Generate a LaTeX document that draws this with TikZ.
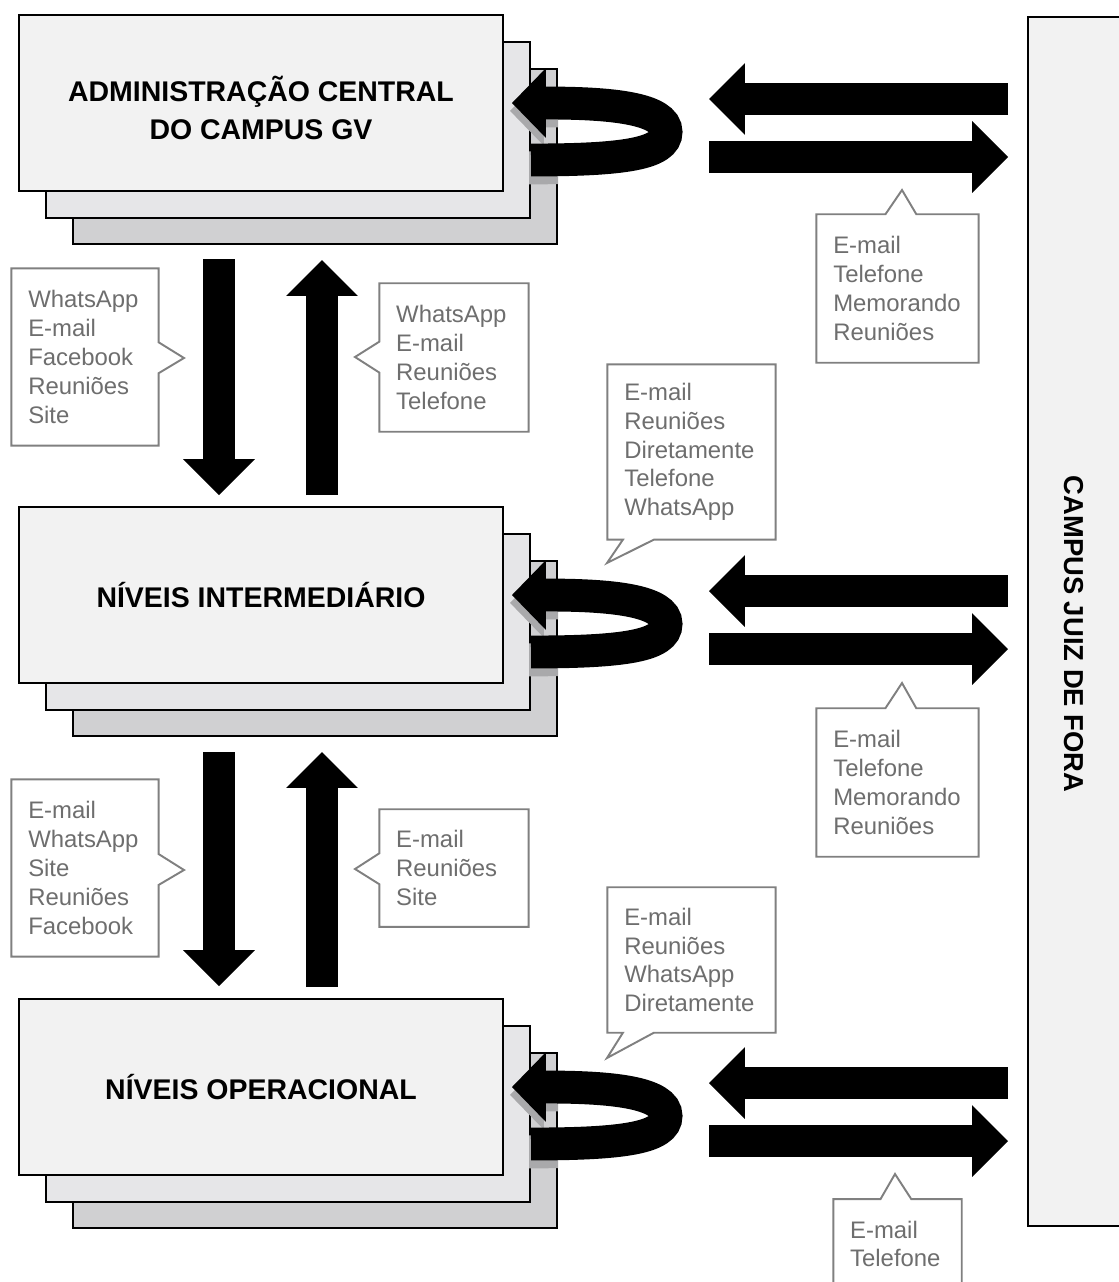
\documentclass[tikz,border=0pt]{standalone}
\usepackage{fontspec}
\setmainfont{Liberation Sans}
\usetikzlibrary{arrows.meta,shapes.callouts,shadows}
\hyphenpenalty=10000

\definecolor{layerfront}{HTML}{F2F2F2}
\definecolor{layermid}{HTML}{E6E6E8}
\definecolor{layerback}{HTML}{D0D0D2}
\definecolor{notegray}{HTML}{808080}
\definecolor{notetext}{HTML}{6E6E6E}
\definecolor{shadowgray}{HTML}{A9A9AB}

\begin{document}
\begin{tikzpicture}[x=0.02cm,y=-0.02cm,
        levelbox/.style = {draw,line width=1.1pt,fill=layerfront,
            minimum width=275.5pt,minimum height=99.8pt,align=center,
            font=\fontsize{16.2pt}{21.5pt}\selectfont\bfseries,
            copy shadow={shadow xshift=30.6pt,shadow yshift=-30.6pt,fill=layerback,draw=black},
            copy shadow={shadow xshift=15.3pt,shadow yshift=-15.3pt,fill=layermid,draw=black}},
        band/.style = {line width=18.1pt,
            -{Triangle[length=20.4pt 0,width=40.8pt 0,line width=0pt 0]}},
        uturn/.style = {line width=18.7pt,
            -{Triangle[length=19.3pt 0,width=39.7pt 0,line width=0pt 0]}},
        note/.style = {rectangle callout,draw=notegray,line width=1.1pt,fill=white,
            text=notetext,align=left,inner xsep=9.6pt,inner ysep=2pt,
            callout pointer width=17.6pt,font=\fontsize{13.6pt}{16.4pt}\selectfont},
        note size/.style 2 args = {text width=#1,minimum height=#2}]
    \useasboundingbox (0,0) rectangle (1119,1282);

    % campus juiz de fora
    \node[draw,line width=1.1pt,fill=layerfront,minimum width=66.9pt,minimum height=687.7pt] (juiz) at (1087,621.5) {};
    \node[rotate=-90,font=\fontsize{15.6pt}{18pt}\selectfont\bfseries] (juizname) at (1074,634) {CAMPUS JUIZ DE FORA};

    % niveis do campus GV
    \node[levelbox,text height=41pt,text depth=0pt] (admin) at (261,103) {ADMINISTRAÇÃO CENTRAL\\DO CAMPUS GV};
    \node[levelbox] (inter) at (261,595) {NÍVEIS INTERMEDIÁRIO};
    \node[levelbox] (oper) at (261,1087) {NÍVEIS OPERACIONAL};

    \foreach \lvl/\dy in {admin/0,inter/492,oper/984} {
        \coordinate (\lvl-out) at (531,160+\dy);
        \coordinate (\lvl-turn) at (666,132+\dy);
        \coordinate (\lvl-in) at (512,103+\dy);
        \coordinate (\lvl-jf1) at (1008,99+\dy);
        \coordinate (\lvl-gv1) at (709,99+\dy);
        \coordinate (\lvl-gv2) at (709,157+\dy);
        \coordinate (\lvl-jf2) at (1008,157+\dy);
        \begin{scope}
            \clip (505,69+\dy) rectangle (558,245+\dy);
            \draw[uturn,shadowgray,transform canvas={shift={(-1.1pt,-4.5pt)}}]
                (\lvl-out) .. controls +(92,0) and +(0,22) .. (\lvl-turn)
                .. controls +(0,-24) and +(98,0) .. (\lvl-in);
        \end{scope}
        \draw[uturn] (\lvl-out) .. controls +(92,0) and +(0,22) .. (\lvl-turn)
            .. controls +(0,-24) and +(98,0) .. (\lvl-in);
        \draw[band] (\lvl-jf1) -- (\lvl-gv1);
        \draw[band] (\lvl-gv2) -- (\lvl-jf2);
    }

    % entre os niveis
    \coordinate (admin-down) at (219,259);
    \coordinate (inter-top1) at (219,495);
    \coordinate (inter-top2) at (322,495);
    \coordinate (admin-up) at (322,260);
    \coordinate (inter-down) at (219,752);
    \coordinate (oper-top1) at (219,986);
    \coordinate (oper-top2) at (322,987);
    \coordinate (inter-up) at (322,752);
    \draw[band] (admin-down) -- (inter-top1);
    \draw[band] (inter-top2) -- (admin-up);
    \draw[band] (inter-down) -- (oper-top1);
    \draw[band] (oper-top2) -- (inter-up);

    % meios de comunicacao
    \coordinate (tip1) at (184,358);
    \coordinate (tip2) at (355,357);
    \coordinate (tip3) at (902,190);
    \coordinate (tip4) at (607,563);
    \coordinate (tip5) at (902,683);
    \coordinate (tip6) at (184,870);
    \coordinate (tip7) at (355,869);
    \coordinate (tip8) at (607,1058);
    \coordinate (tip9) at (895,1174);

    \node[note,note size={64.6pt}{100.9pt},callout absolute pointer={(tip1)}] (note1) at (85,357)
        {WhatsApp\\E-mail\\Facebook\\Reuniões\\Site};
    \node[note,note size={65.8pt}{84.5pt},callout absolute pointer={(tip2)}] (note2) at (454,357.5)
        {WhatsApp\\E-mail\\Reuniões\\Telefone};
    \node[note,note size={73.1pt}{84.5pt},callout absolute pointer={(tip3)}] (note3) at (897.5,288.5)
        {E-mail\\Telefone\\Memorando\\Reuniões};
    \node[note,note size={76.5pt}{99.8pt},callout absolute pointer={(tip4)}] (note4) at (691.5,452)
        {E-mail\\Reuniões\\Diretamente\\Telefone\\WhatsApp};
    \node[note,note size={73.1pt}{84.5pt},callout absolute pointer={(tip5)}] (note5) at (897.5,782.5)
        {E-mail\\Telefone\\Memorando\\Reuniões};
    \node[note,note size={64.6pt}{100.9pt},callout absolute pointer={(tip6)}] (note6) at (85,868)
        {E-mail\\WhatsApp\\Site\\Reuniões\\Facebook};
    \node[note,note size={65.8pt}{66.9pt},callout absolute pointer={(tip7)}] (note7) at (454,868)
        {E-mail\\Reuniões\\Site};
    \node[note,note size={76.5pt}{82.8pt},callout absolute pointer={(tip8)}] (note8) at (691.5,960)
        {E-mail\\Reuniões\\WhatsApp\\Diretamente};
    \node[note,note size={53.9pt}{51pt},callout absolute pointer={(tip9)}] (note9) at (897.5,1244)
        {E-mail\\Telefone};
\end{tikzpicture}
\end{document}
